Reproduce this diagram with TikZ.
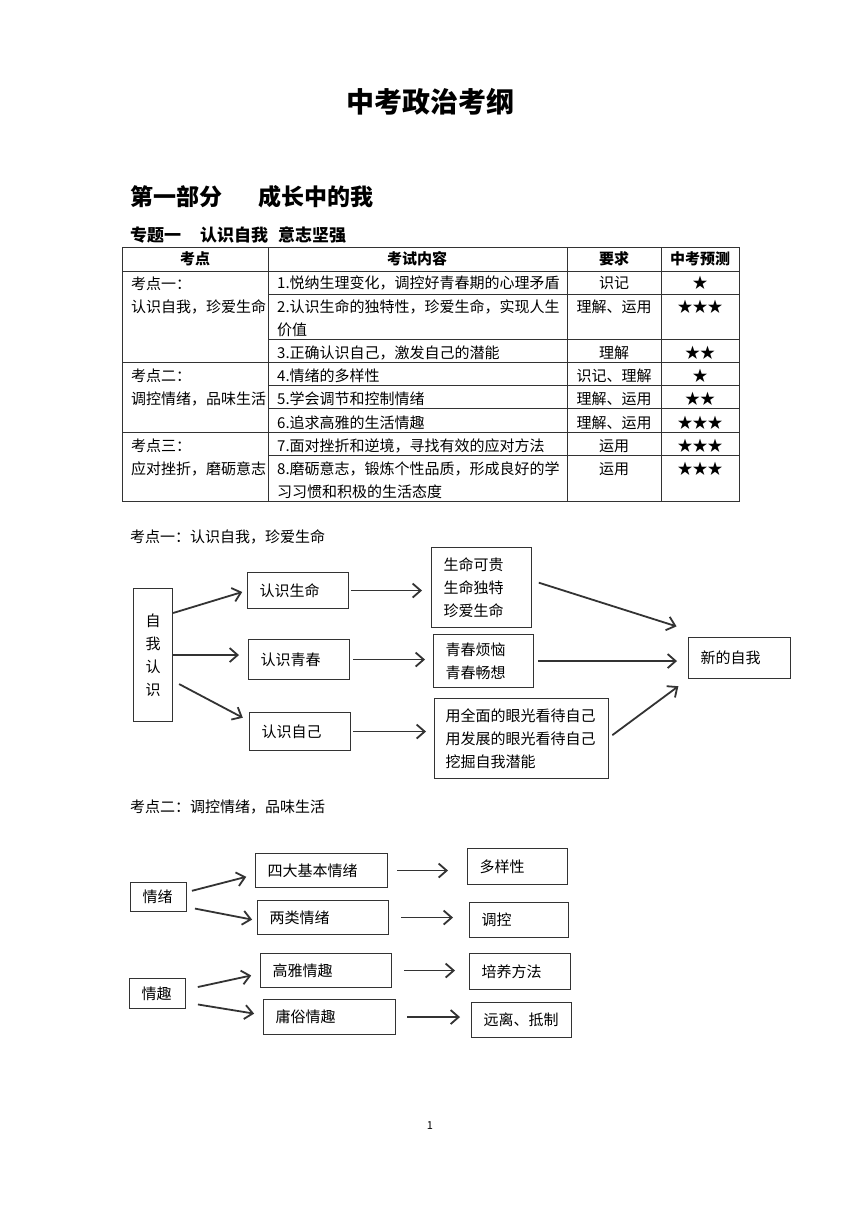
\documentclass[tikz,border=0pt]{standalone}
\usepackage{fontspec}
\setmainfont{Noto Sans CJK SC}
\usepackage{xcolor}
\definecolor{333333}{HTML}{333333}
\usepackage{tikz}
\usetikzlibrary{arrows.meta}

\begin{document}
\begin{tikzpicture}[x=1pt, y=-1pt,
                        txt/.style={inner sep=0pt, font=\fontsize{15pt}{23pt}\selectfont},
                        head/.style={inner sep=0pt, font=\bfseries\fontsize{15pt}{23pt}\selectfont},
                        box/.style={draw=333333, line width=1.1pt, anchor=north west, inner xsep=12pt, inner ysep=0pt, align=left, font=\fontsize{15pt}{23pt}\selectfont},
                        arr/.style={draw=333333, line width=1.8pt, -{Straight Barb[length=8pt,width=14pt]}},
                        tbl/.style={draw=333333, line width=0.8pt}]
                        \fill[white] (0, 0) rectangle (860, 1216);

                        \node (title) at (430, 102) [inner sep=0pt, font=\bfseries\fontsize{28pt}{28pt}\selectfont] {中考政治考纲};
                        \node (part) at (130, 197) [anchor=west, inner sep=0pt, font=\bfseries\fontsize{23pt}{23pt}\selectfont] {第一部分\hspace{36pt}成长中的我};
                        \node (topic) at (130, 235) [anchor=west, inner sep=0pt, font=\bfseries\fontsize{17pt}{17pt}\selectfont] {专题一\hspace{19pt}认识自我\hspace{10pt}意志坚强};

                        % table
                        \draw[tbl] (122, 247) rectangle (739, 501);
                        \draw[tbl] (268, 247) -- (268, 501);
                        \draw[tbl] (567, 247) -- (567, 501);
                        \draw[tbl] (661, 247) -- (661, 501);
                        \draw[tbl] (122, 271) -- (739, 271);
                        \draw[tbl] (122, 362) -- (739, 362);
                        \draw[tbl] (122, 432) -- (739, 432);
                        \draw[tbl] (268, 294) -- (739, 294);
                        \draw[tbl] (268, 339) -- (739, 339);
                        \draw[tbl] (268, 385) -- (739, 385);
                        \draw[tbl] (268, 408) -- (739, 408);
                        \draw[tbl] (268, 455) -- (739, 455);

                        \node (h1) at (195, 259) [head] {考点};
                        \node (h2) at (417, 259) [head] {考试内容};
                        \node (h3) at (614, 259) [head] {要求};
                        \node (h4) at (700, 259) [head] {中考预测};

                        \node (k1) at (131, 295) [txt, anchor=west, align=left] {考点一：\\认识自我，珍爱生命};
                        \node (k2) at (131, 387.5) [txt, anchor=west, align=left] {考点二：\\调控情绪，品味生活};
                        \node (k3) at (131, 457.5) [txt, anchor=west, align=left] {考点三：\\应对挫折，磨砺意志};

                        \node (c1) at (277, 283) [txt, anchor=west] {1.悦纳生理变化，调控好青春期的心理矛盾};
                        \node (c2) at (277, 318.5) [txt, anchor=west, align=left] {2.认识生命的独特性，珍爱生命，实现人生\\价值};
                        \node (c3) at (277, 353) [txt, anchor=west] {3.正确认识自己，激发自己的潜能};
                        \node (c4) at (277, 376) [txt, anchor=west] {4.情绪的多样性};
                        \node (c5) at (277, 399) [txt, anchor=west] {5.学会调节和控制情绪};
                        \node (c6) at (277, 423) [txt, anchor=west] {6.追求高雅的生活情趣};
                        \node (c7) at (277, 446) [txt, anchor=west] {7.面对挫折和逆境，寻找有效的应对方法};
                        \node (c8) at (277, 480.5) [txt, anchor=west, align=left] {8.磨砺意志，锻炼个性品质，形成良好的学\\习习惯和积极的生活态度};

                        \node (r1) at (614, 283) [txt] {识记};
                        \node (r2) at (614, 307) [txt] {理解、运用};
                        \node (r3) at (614, 353) [txt] {理解};
                        \node (r4) at (614, 376) [txt] {识记、理解};
                        \node (r5) at (614, 399) [txt] {理解、运用};
                        \node (r6) at (614, 423) [txt] {理解、运用};
                        \node (r7) at (614, 446) [txt] {运用};
                        \node (r8) at (614, 469) [txt] {运用};

                        \node (s1) at (700, 283) [txt] {★};
                        \node (s2) at (700, 307) [txt] {★★★};
                        \node (s3) at (700, 353) [txt] {★★};
                        \node (s4) at (700, 376) [txt] {★};
                        \node (s5) at (700, 399) [txt] {★★};
                        \node (s6) at (700, 423) [txt] {★★★};
                        \node (s7) at (700, 446) [txt] {★★★};
                        \node (s8) at (700, 469) [txt] {★★★};

                        % 考点一
                        \node (lab1) at (130, 537) [txt, anchor=west] {考点一：认识自我，珍爱生命};
                        \node (ziwo) at (133, 588) [box, inner xsep=0pt, text width=39pt, align=center, minimum height=133pt] {自\\我\\认\\识};
                        \node (life) at (247, 572) [box, text width=77pt, minimum height=36pt] {认识生命};
                        \node (youth) at (248, 639) [box, text width=77pt, minimum height=40pt] {认识青春};
                        \node (self) at (249, 712) [box, text width=77pt, minimum height=38pt] {认识自己};
                        \node (lifeinfo) at (431, 547) [box, text width=76pt, minimum height=80pt] {生命可贵\\生命独特\\珍爱生命};
                        \node (youthinfo) at (433, 634) [box, text width=76pt, minimum height=53pt] {青春烦恼\\青春畅想};
                        \node (selfinfo) at (434, 698) [box, inner xsep=11pt, text width=152pt, minimum height=80pt] {用全面的眼光看待自己\\用发展的眼光看待自己\\挖掘自我潜能};
                        \node (newself) at (688, 637) [box, text width=78pt, minimum height=41pt] {新的自我};

                        \draw[arr, shorten >=5pt] ([yshift=-25pt]ziwo.north east) -- (life.west);
                        \draw[arr, shorten >=9pt] (ziwo.east) -- (ziwo.east -| youth.west);
                        \draw[arr, shorten >=7pt] ([shift={(6pt,-29pt)}]ziwo.east) -- ([yshift=-9pt]self.north west);
                        \draw[arr, shorten <=2pt, shorten >=9pt] (life.east) -- (life.east -| lifeinfo.west);
                        \draw[arr, shorten <=3pt, shorten >=8pt] (youth.east) -- (youth.east -| youthinfo.west);
                        \draw[arr, shorten <=2pt, shorten >=8pt] (self.east) -- (self.east -| selfinfo.west);
                        \draw[arr, shorten <=7pt, shorten >=12pt] ([yshift=7pt]lifeinfo.east) -- ([yshift=7pt]newself.north west);
                        \draw[arr, shorten <=4pt, shorten >=11pt] (youthinfo.east) -- (youthinfo.east -| newself.west);
                        \draw[arr, shorten <=4pt, shorten >=12pt] ([yshift=1pt]selfinfo.east) -- (newself.south west);

                        % 考点二
                        \node (lab2) at (130, 807) [txt, anchor=west] {考点二：调控情绪，品味生活};
                        \node (emo) at (130, 882) [box, text width=32pt, minimum height=29pt] {情绪};
                        \node (interest) at (129, 978) [box, text width=32pt, minimum height=30pt] {情趣};
                        \node (four) at (255, 853) [box, text width=108pt, minimum height=34pt] {四大基本情绪};
                        \node (two) at (257, 900) [box, text width=107pt, minimum height=34pt] {两类情绪};
                        \node (high) at (260, 953) [box, text width=107pt, minimum height=34pt] {高雅情趣};
                        \node (vulgar) at (263, 999) [box, text width=108pt, minimum height=35pt] {庸俗情趣};
                        \node (variety) at (467, 848) [box, text width=76pt, minimum height=36pt] {多样性};
                        \node (control) at (469, 902) [box, text width=75pt, minimum height=35pt] {调控};
                        \node (cultivate) at (469, 953) [box, text width=77pt, minimum height=36pt] {培养方法};
                        \node (avoid) at (471, 1002) [box, text width=76pt, minimum height=35pt] {远离、抵制};

                        \draw[arr, shorten <=5pt, shorten >=9pt] ([yshift=5pt]emo.east) -- ([yshift=-4pt]four.west);
                        \draw[arr, shorten <=8pt, shorten >=5pt] ([yshift=-10pt]emo.east) -- ([yshift=-3pt]two.west);
                        \draw[arr, shorten <=12pt, shorten >=9pt] ([yshift=4pt]interest.east) -- ([yshift=-3pt]high.west);
                        \draw[arr, shorten <=12pt, shorten >=9pt] ([yshift=-9pt]interest.east) -- ([yshift=2pt]vulgar.west);
                        \draw[arr, shorten <=9pt, shorten >=19pt] (four.east) -- (four.east -| variety.west);
                        \draw[arr, shorten <=12pt, shorten >=16pt] (two.east) -- (two.east -| control.west);
                        \draw[arr, shorten <=12pt, shorten >=14pt] (high.east) -- (high.east -| cultivate.west);
                        \draw[arr, shorten <=11pt, shorten >=11pt] (vulgar.east) -- (vulgar.east -| avoid.west);

                        \node (page) at (430, 1126) [inner sep=0pt, font=\fontsize{11pt}{11pt}\selectfont] {1};
                    \end{tikzpicture}
\end{document}
